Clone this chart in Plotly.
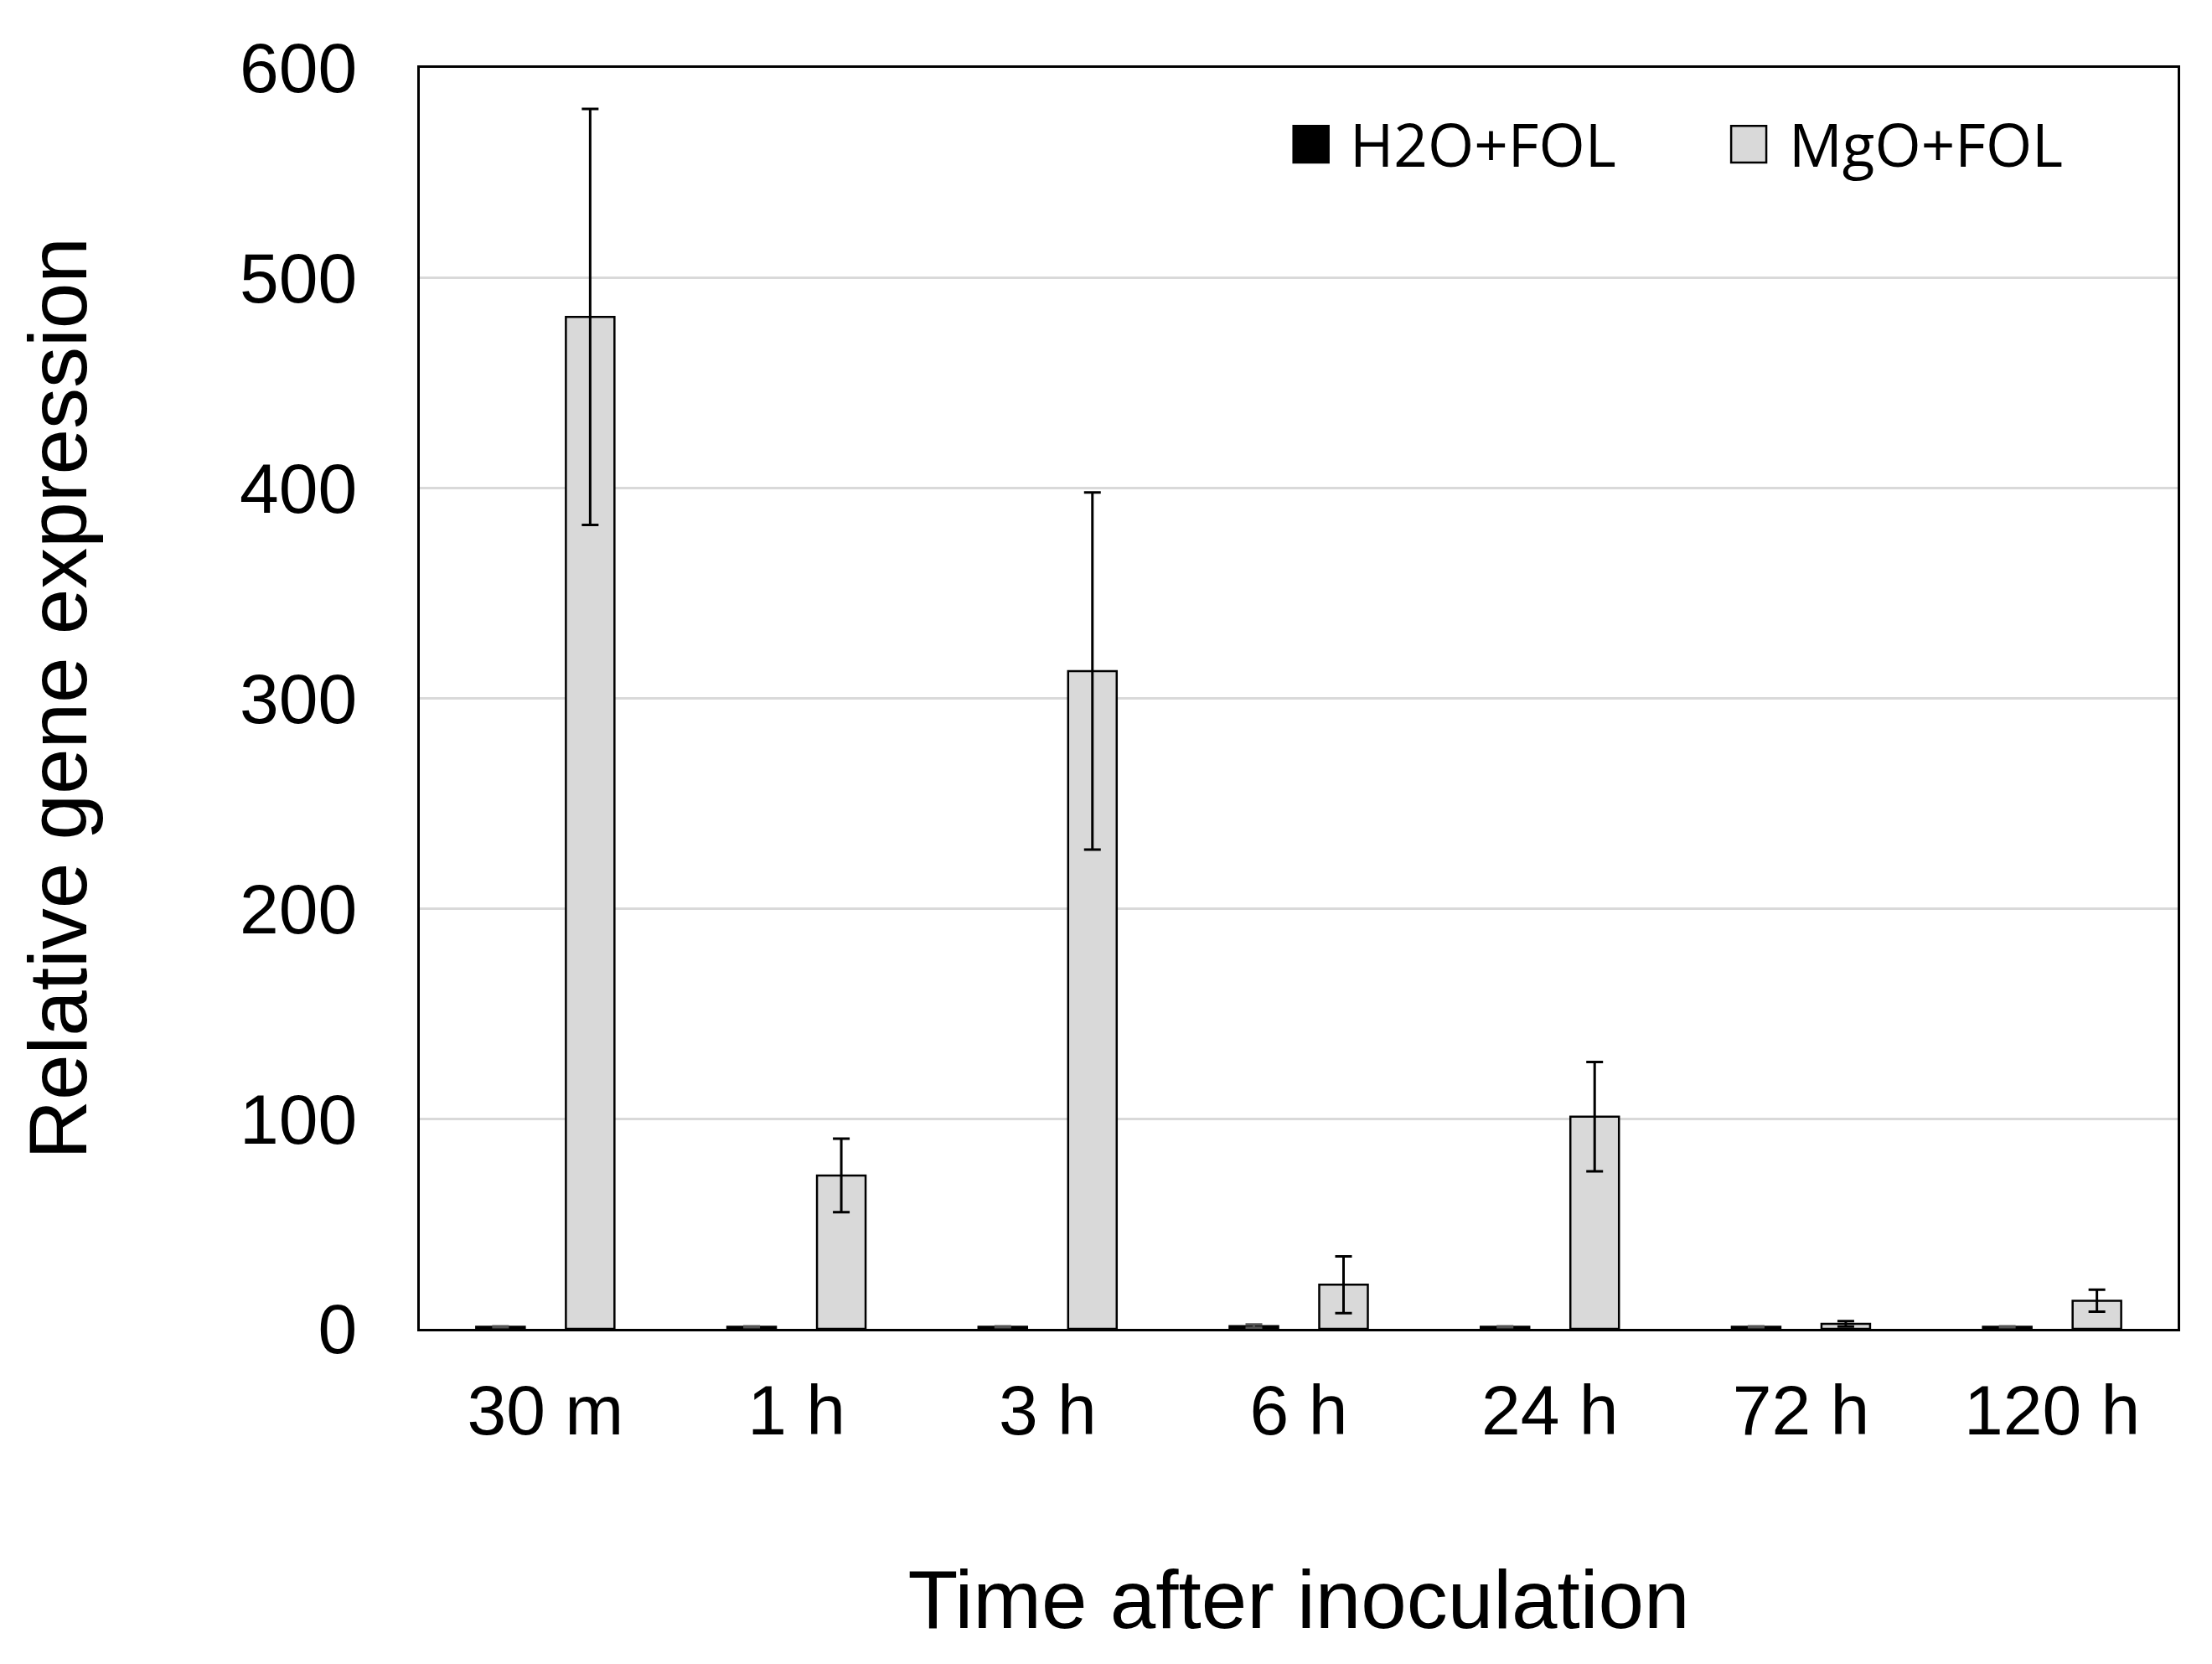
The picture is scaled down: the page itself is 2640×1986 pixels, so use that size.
import plotly.graph_objects as go

categories = ["30 m", "1 h", "3 h", "6 h", "24 h", "72 h", "120 h"]
h2o_values = [1.0, 1.0, 1.0, 1.3, 1.0, 1.0, 1.0]
h2o_errors = [0.2, 0.2, 0.2, 0.8, 0.2, 0.2, 0.2]
mgo_values = [481.5, 73.0, 313.0, 21.0, 101.0, 2.4, 13.4]
mgo_errors = [99.0, 17.5, 85.0, 13.5, 26.0, 1.3, 5.2]
series_names = ["H2O+FOL", "MgO+FOL"]
y_ticks = [0, 100, 200, 300, 400, 500, 600]

tick_font = dict(family="Liberation Sans, Arial, sans-serif", size=84, color="black")
title_font = dict(family="Liberation Sans, Arial, sans-serif", size=98, color="black")
legend_font = dict(family="Open Sans, Noto Sans, sans-serif", size=71, color="black")

fig = go.Figure()
fig.add_trace(go.Bar(
    x=categories, y=h2o_values, name=series_names[0],
    marker=dict(color="black", line=dict(color="black", width=2.5)),
    error_y=dict(type="data", array=h2o_errors, color="#555555", thickness=3, width=10),
    showlegend=False,
))
fig.add_trace(go.Bar(
    x=categories, y=mgo_values, name=series_names[1],
    marker=dict(color="#d9d9d9", line=dict(color="black", width=2.5)),
    error_y=dict(type="data", array=mgo_errors, color="black", thickness=3, width=10),
    showlegend=False,
))

# manual legend (large square symbols)
legend_items = [
    (series_names[0], "black", 0.497, 0.528),
    (series_names[1], "#d9d9d9", 0.746, 0.778),
]
for name, color, x0, xt in legend_items:
    fig.add_shape(type="rect", xref="paper", yref="paper",
                  x0=x0, x1=x0 + 0.02, y0=0.925, y1=0.954,
                  fillcolor=color, line=dict(color="black", width=2.5))
    fig.add_annotation(xref="paper", yref="paper", x=xt, y=0.94,
                       text=name, showarrow=False, xanchor="left", yanchor="middle",
                       font=legend_font)

fig.update_layout(
    width=2632, height=1978,
    margin=dict(l=493, r=41, t=73, b=400),
    paper_bgcolor="white", plot_bgcolor="white",
    barmode="group", bargap=0.286, bargroupgap=0.458,
)
fig.update_xaxes(
    showline=True, linecolor="black", linewidth=3, mirror=True,
    showgrid=False, ticks="", tickfont=tick_font, ticklabelstandoff=22,
    title=dict(text="Time after inoculation", font=title_font, standoff=146),
)
fig.update_yaxes(
    range=[0, 600], tickvals=y_ticks,
    showline=True, linecolor="black", linewidth=3, mirror=True,
    showgrid=True, gridcolor="#d9d9d9", gridwidth=2.5, zeroline=False,
    ticks="", tickfont=tick_font, ticklabelstandoff=55,
    title=dict(text="Relative gene expression", font=title_font, standoff=150),
)

fig.write_html("out.html")
